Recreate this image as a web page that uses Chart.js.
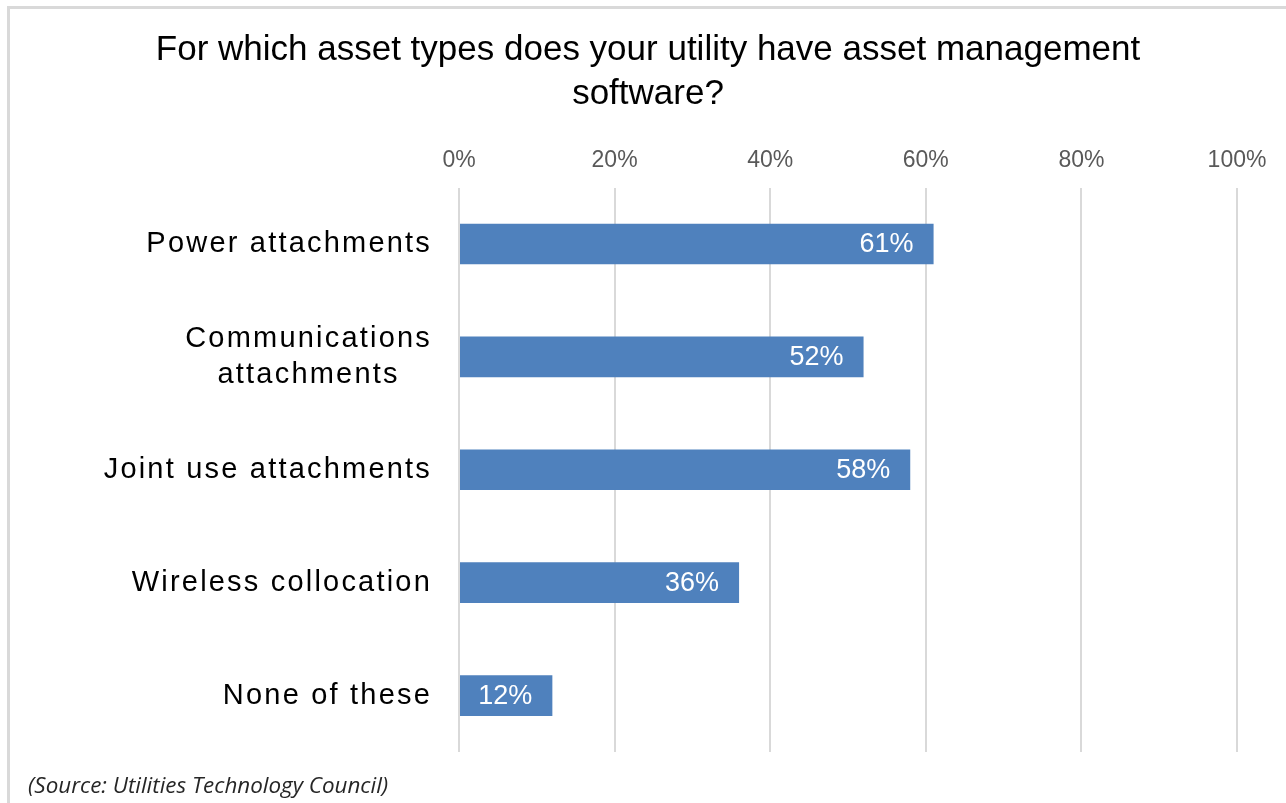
<!DOCTYPE html>
<html>
<head>
<meta charset="utf-8">
<title>Asset management software</title>
<script src="https://cdn.jsdelivr.net/npm/chart.js@4.4.1/dist/chart.umd.min.js"></script>
<style>
  html, body { margin: 0; padding: 0; background: #fff; }
  #frame {
    position: absolute; left: 7px; top: 6px; width: 1300px; height: 900px;
    border: 3px solid #d9d9d9; box-sizing: border-box;
  }
  #wrap { position: absolute; left: 0; top: 0; width: 1286px; height: 803px; }
</style>
</head>
<body>
<div id="frame"></div>
<div id="wrap"><canvas id="mycanvas" width="1286" height="803"></canvas></div>
<script>
// survey answers, share of utilities (%)
var categories = [
  ["Power attachments"],
  ["Communications", "attachments"],
  ["Joint use attachments"],
  ["Wireless collocation"],
  ["None of these"]
];
var shares = [61, 52, 58, 36, 12];
var tickValues = [0, 20, 40, 60, 80, 100];
var chartTitle = ["For which asset types does your utility have asset management", "software?"];
var sourceNote = "(Source: Utilities Technology Council)";

var FONT = "'Liberation Sans', Arial, sans-serif";

// two-line heading, centred a little right of the canvas middle
var heading = {
  id: "heading",
  afterDraw: function(chart) {
    var ctx = chart.ctx;
    ctx.save();
    ctx.font = "35px " + FONT;
    ctx.fillStyle = "#000";
    ctx.textAlign = "center";
    ctx.textBaseline = "middle";
    ctx.fillText(chartTitle[0], 648, 50);
    ctx.fillText(chartTitle[1], 648, 94);
    ctx.restore();
  }
};

// category names on the left, right edge of each block lined up, lines centred in the block
var categoryLabels = {
  id: "categoryLabels",
  afterDraw: function(chart) {
    var ctx = chart.ctx, y = chart.scales.y;
    ctx.save();
    ctx.font = "29px " + FONT;
    ctx.letterSpacing = "2.2px";
    ctx.fillStyle = "#000";
    ctx.textAlign = "center";
    ctx.textBaseline = "middle";
    var right = chart.chartArea.left - 27;
    var lh = 36;
    categories.forEach(function(lines, i) {
      var w = 0;
      lines.forEach(function(t) { w = Math.max(w, ctx.measureText(t).width); });
      var cy = y.getPixelForValue(i) - (lines.length - 1) * lh / 2;
      lines.forEach(function(t, k) {
        ctx.fillText(t, right - w / 2, cy + k * lh);
      });
    });
    ctx.restore();
  }
};

// value printed inside the end of each bar
var barValues = {
  id: "barValues",
  afterDatasetsDraw: function(chart) {
    var ctx = chart.ctx;
    var meta = chart.getDatasetMeta(0);
    ctx.save();
    ctx.font = "27px " + FONT;
    ctx.fillStyle = "#fff";
    ctx.textAlign = "right";
    ctx.textBaseline = "middle";
    meta.data.forEach(function(bar, i) {
      ctx.fillText(shares[i] + "%", bar.x - 20, bar.y + 1);
    });
    ctx.restore();
  }
};

// source line bottom left
var sourceLine = {
  id: "sourceLine",
  afterDraw: function(chart) {
    var ctx = chart.ctx;
    ctx.save();
    ctx.font = "italic 22.4px 'Open Sans', " + FONT;
    ctx.fillStyle = "#262626";
    ctx.textAlign = "left";
    ctx.textBaseline = "middle";
    ctx.fillText(sourceNote, 28, 787);
    ctx.restore();
  }
};

var ctx = document.getElementById("mycanvas");
var chart = new Chart(ctx, {
  type: "bar",
  data: {
    labels: categories.map(function(c) { return c.join(" "); }),
    datasets: [{
      data: shares,
      backgroundColor: "#4f81bd",
      borderWidth: 0,
      barPercentage: 0.36,
      categoryPercentage: 1
    }]
  },
  options: {
    indexAxis: "y",
    responsive: false,
    animation: false,
    devicePixelRatio: 1,
    layout: { padding: { left: 0, right: 49, top: 134, bottom: 51 } },
    plugins: {
      legend: { display: false },
      tooltip: { enabled: false },
      title: { display: false }
    },
    scales: {
      x: {
        position: "top",
        min: 0,
        max: 100,
        afterBuildTicks: function(scale) {
          scale.ticks = tickValues.map(function(v) { return { value: v }; });
        },
        ticks: {
          color: "#595959",
          font: { family: FONT, size: 23 },
          padding: 13,
          callback: function(v) { return v + "%"; }
        },
        grid: { color: "#d9d9d9", lineWidth: 2, drawTicks: false },
        border: { display: false }
      },
      y: {
        ticks: { display: false },
        grid: { display: false },
        border: { display: false },
        afterFit: function(scale) { scale.width = 459; }
      }
    }
  },
  plugins: [heading, categoryLabels, barValues, sourceLine]
});
</script>
</body>
</html>
